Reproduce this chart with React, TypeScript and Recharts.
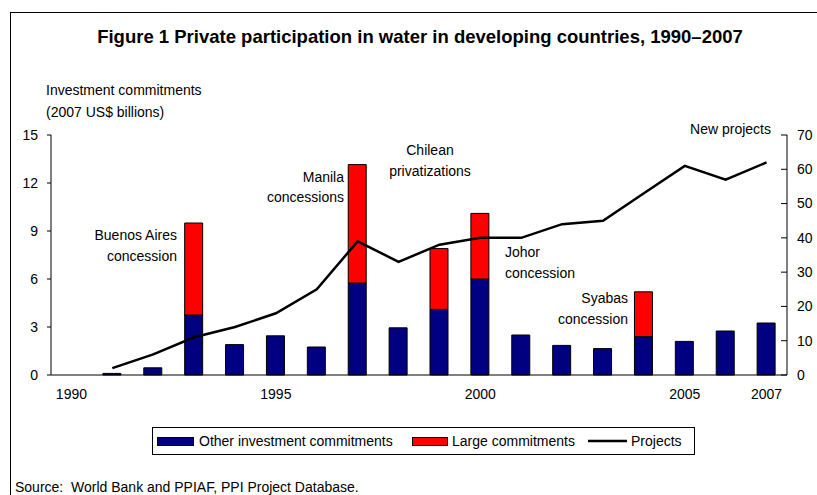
import React from 'react';
import { ComposedChart, Bar, Line, XAxis, YAxis } from 'recharts';

const years = ['1990', '1991', '1992', '1993', '1994', '1995', '1996', '1997', '1998', '1999',
  '2000', '2001', '2002', '2003', '2004', '2005', '2006', '2007'];
const otherCommitments = [0, 0.1, 0.45, 3.75, 1.9, 2.45, 1.75, 5.75, 2.95, 4.1, 6.0, 2.5, 1.85, 1.65, 2.4, 2.1, 2.75, 3.25];
const largeCommitments = [0, 0, 0, 5.75, 0, 0, 0, 7.4, 0, 3.8, 4.1, 0, 0, 0, 2.8, 0, 0, 0];
const projects = [null, 2, 6, 11, 14, 18, 25, 39, 33, 38, 40, 40, 44, 45, 53, 61, 57, 62];
const xTickYears = ['1990', '1995', '2000', '2005', '2007'];
const leftTicks = [0, 3, 6, 9, 12, 15];
const rightTicks = [0, 10, 20, 30, 40, 50, 60, 70];

const FONT = '"Liberation Sans", Arial, sans-serif';
const NAVY = '#000080';
const RED = '#FF0000';

const data = years.map((year, i) => ({
  year,
  other: otherCommitments[i],
  large: largeCommitments[i],
  projects: projects[i],
}));

// right axis: tick mark points into the plot, label sits outside
const RightTick = (props: any) => {
  const { x, y, payload } = props;
  return (
    <g>
      <line x1={x - 16} x2={x - 10} y1={y} y2={y} stroke="#000" strokeWidth={1} />
      <text x={x} y={y} dy="0.35em" textAnchor="start" fontSize={14} fontFamily={FONT} fill="#000">
        {payload.value}
      </text>
    </g>
  );
};

const textStyle = { fontSize: 14, fontFamily: FONT, fill: '#000' };

export default function App() {
  return (
    <div style={{ position: 'absolute', left: 0, top: 0, width: 817, height: 495, overflow: 'hidden', background: '#fff' }}>
      <div style={{ position: 'absolute', left: 10, top: 12, width: 900, height: 600, border: '1px solid #000' }} />
      <ComposedChart
        width={817}
        height={495}
        data={data}
        margin={{ top: 135, right: 0, bottom: 90, left: 11 }}
        barGap={0}
        style={{ position: 'absolute', left: 0, top: 0 }}
      >
        <XAxis
          dataKey="year"
          interval={0}
          tickLine={false}
          tickSize={0}
          tickMargin={14}
          height={30}
          tickFormatter={(v: string) => (xTickYears.includes(v) ? v : '')}
          axisLine={{ stroke: '#000', strokeWidth: 1 }}
          tick={{ fontSize: 14, fontFamily: FONT, fill: '#000' }}
        />
        <YAxis
          yAxisId="left"
          domain={[0, 15]}
          ticks={leftTicks}
          width={40}
          tickSize={4}
          tickMargin={9}
          axisLine={{ stroke: '#000', strokeWidth: 1 }}
          tickLine={{ stroke: '#000' }}
          tick={{ fontSize: 14, fontFamily: FONT, fill: '#000' }}
        />
        <YAxis
          yAxisId="right"
          orientation="right"
          domain={[0, 70]}
          ticks={rightTicks}
          width={30}
          tickSize={0}
          tickMargin={10}
          tickLine={false}
          axisLine={{ stroke: '#000', strokeWidth: 1 }}
          tick={<RightTick />}
        />
        <Bar yAxisId="left" dataKey="other" stackId="a" fill={NAVY} stroke="#000" strokeWidth={1} barSize={18} isAnimationActive={false} />
        <Bar yAxisId="left" dataKey="large" stackId="a" fill={RED} stroke="#000" strokeWidth={1} barSize={18} isAnimationActive={false} />
        <Line yAxisId="right" dataKey="projects" stroke="#000" strokeWidth={2.5} dot={false} connectNulls isAnimationActive={false} />
      </ComposedChart>

      <svg width={817} height={495} style={{ position: 'absolute', left: 0, top: 0, pointerEvents: 'none' }}>
        <text x={420} y={37} dy="0.35em" textAnchor="middle" fontSize={18.5} fontWeight="bold" fontFamily={FONT} fill="#000">
          Figure 1 Private participation in water in developing countries, 1990–2007
        </text>
        <text x={46} y={90} dy="0.35em" {...textStyle}>Investment commitments</text>
        <text x={46} y={112} dy="0.35em" {...textStyle}>(2007 US$ billions)</text>
        <text x={771} y={129} dy="0.35em" textAnchor="end" {...textStyle}>New projects</text>

        <text x={177} y={235} dy="0.35em" textAnchor="end" {...textStyle}>Buenos Aires</text>
        <text x={177} y={256} dy="0.35em" textAnchor="end" {...textStyle}>concession</text>
        <text x={344} y={177} dy="0.35em" textAnchor="end" {...textStyle}>Manila</text>
        <text x={344} y={197} dy="0.35em" textAnchor="end" {...textStyle}>concessions</text>
        <text x={430} y={150} dy="0.35em" textAnchor="middle" {...textStyle}>Chilean</text>
        <text x={430} y={171} dy="0.35em" textAnchor="middle" {...textStyle}>privatizations</text>
        <text x={505} y={252} dy="0.35em" {...textStyle}>Johor</text>
        <text x={505} y={273} dy="0.35em" {...textStyle}>concession</text>
        <text x={628} y={298} dy="0.35em" textAnchor="end" {...textStyle}>Syabas</text>
        <text x={628} y={319} dy="0.35em" textAnchor="end" {...textStyle}>concession</text>

        <text x={15} y={487} dy="0.35em" {...textStyle}>{'Source:\u00a0 World Bank and PPIAF, PPI Project Database.'}</text>

        <rect x={152.5} y={427.5} width={542} height={27} fill="#fff" stroke="#000" strokeWidth={1} />
        <rect x={157.5} y={437.5} width={36} height={8} fill={NAVY} stroke="#000" strokeWidth={1} />
        <text x={199} y={441} dy="0.35em" {...textStyle}>Other investment commitments</text>
        <rect x={412.5} y={437.5} width={35} height={8} fill={RED} stroke="#000" strokeWidth={1} />
        <text x={452} y={441} dy="0.35em" {...textStyle}>Large commitments</text>
        <line x1={588} x2={627} y1={441} y2={441} stroke="#000" strokeWidth={2.5} />
        <text x={631} y={441} dy="0.35em" {...textStyle}>Projects</text>
      </svg>
    </div>
  );
}
